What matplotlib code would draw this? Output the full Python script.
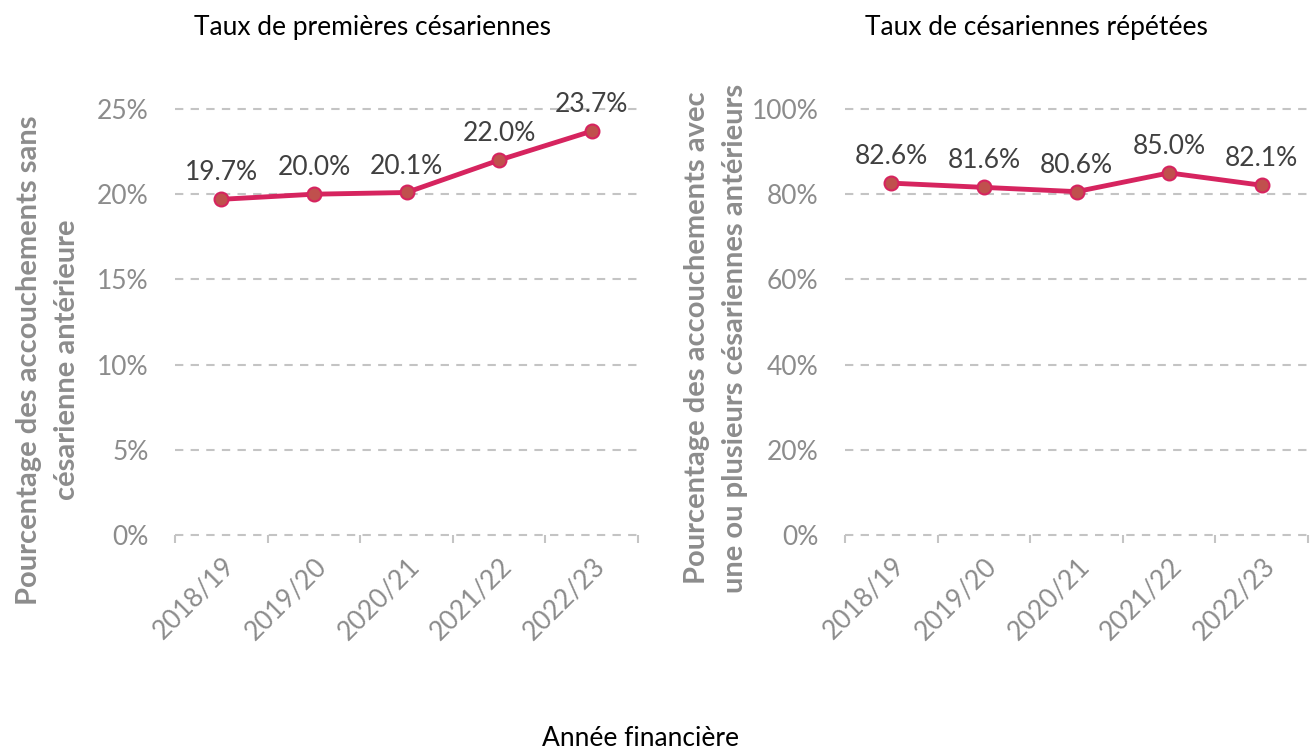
import matplotlib
matplotlib.use("Agg")
import matplotlib.pyplot as plt
from matplotlib.ticker import FuncFormatter

plt.rcParams['font.family'] = ['Lato', 'DejaVu Sans']

years = ["2018/19", "2019/20", "2020/21", "2021/22", "2022/23"]
first_cs = [19.7, 20.0, 20.1, 22.0, 23.7]
repeat_cs = [82.6, 81.6, 80.6, 85.0, 82.1]

titles = ["Taux de premières césariennes", "Taux de césariennes répétées"]
ylabels = ["Pourcentage des accouchements sans\ncésarienne antérieure",
           "Pourcentage des accouchements avec\nune ou plusieurs césariennes antérieurs"]
yticks = [[0, 5, 10, 15, 20, 25], [0, 20, 40, 60, 80, 100]]
xlabel = "Année financière"

line_col = "#D6245F"
marker_col = "#C0504D"
grid_col = "#C4C4C4"
tick_col = "#8C8C8C"
text_col = "#404040"

fig = plt.figure(figsize=(13.14, 7.5), dpi=100)
W, H = 1314, 750
axes_px = [(175, 638), (845, 1308)]
title_x = [372, 1036]
ylabel_px = [(80, 360), (748, 338)]
top_px, bot_px = 109, 535

for i, (vals, (x0, x1)) in enumerate(zip([first_cs, repeat_cs], axes_px)):
    ax = fig.add_axes([x0 / W, 1 - bot_px / H, (x1 - x0) / W, (bot_px - top_px) / H])
    xs = list(range(len(years)))
    ax.set_xlim(-0.5, len(years) - 0.5)
    ax.set_ylim(yticks[i][0], yticks[i][-1])
    for s in ax.spines.values():
        s.set_visible(False)
    ax.set_yticks(yticks[i])
    ax.yaxis.set_major_formatter(FuncFormatter(lambda v, p: f"{v:.0f}%"))
    ax.tick_params(axis='y', length=0, labelsize=19, labelcolor=tick_col, pad=19)
    ax.grid(axis='y', color=grid_col, linestyle=(0, (4, 3.5)), linewidth=1.5, clip_on=False)
    ax.set_axisbelow(True)
    ax.set_xticks(xs)
    ax.set_xticklabels(years, rotation=45, ha='right', va='top', rotation_mode='anchor')
    ax.tick_params(axis='x', which='major', length=0, labelsize=19, labelcolor=tick_col, pad=13)
    ax.set_xticks([x - 0.5 for x in range(len(years) + 1)], minor=True)
    ax.tick_params(axis='x', which='minor', length=6, width=1.5, color=grid_col)
    ax.plot(xs, vals, color=line_col, linewidth=3.5, marker='o', markersize=10,
            markerfacecolor=marker_col, markeredgecolor=line_col, markeredgewidth=1.5,
            clip_on=False, zorder=3)
    for x, v in zip(xs, vals):
        ax.annotate(f"{v:.1f}%", (x, v), xytext=(0, 10), textcoords='offset points',
                    ha='center', va='bottom', fontsize=19, color=text_col)
    ax.set_ylabel(ylabels[i], fontsize=21, color=tick_col, fontweight='bold',
                  linespacing=1.55)
    lx, ly = ylabel_px[i]
    ax.yaxis.set_label_coords((lx - x0) / (x1 - x0), (bot_px - ly) / (bot_px - top_px))
    fig.text(title_x[i] / W, 1 - 28 / H, titles[i], ha='center', va='center',
             fontsize=19, color='black')

fig.text(640 / W, 1 - 738 / H, xlabel, ha='center', va='center', fontsize=19, color='black')

fig.savefig("out.png", dpi=100, facecolor='white')
